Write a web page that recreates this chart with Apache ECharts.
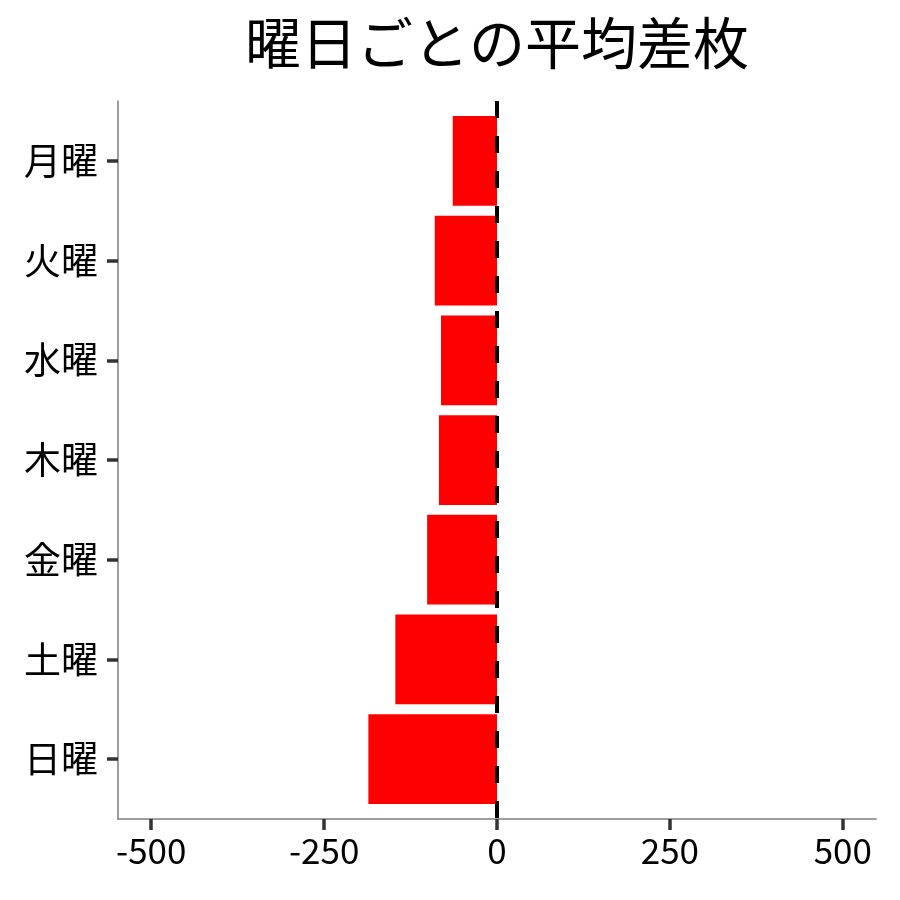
<!DOCTYPE html>
<html>
<head>
<meta charset="utf-8">
<script src="https://cdn.jsdelivr.net/npm/echarts@6/dist/echarts.min.js"></script>
<style>
  html, body { margin: 0; padding: 0; background: #fff; }
  #main { width: 900px; height: 900px; }
</style>
</head>
<body>
<div id="main"></div>
<script>
// 曜日ごとの平均差枚
var days = ['月曜', '火曜', '水曜', '木曜', '金曜', '土曜', '日曜'];
var avgDiff = [-64, -90, -81, -84, -101, -147, -186];
var xTicks = [-500, -250, 0, 250, 500];
var dayPos = days.map(function (d, i) { return i + 1; });

var FONT = '"Noto Sans CJK JP", "Noto Sans", sans-serif';

var chart = echarts.init(document.getElementById('main'));

var barData = avgDiff.map(function (v, i) { return [v, dayPos[i]]; });

chart.setOption({
  animation: false,
  backgroundColor: '#fff',
  title: {
    text: '曜日ごとの平均差枚',
    left: 492,
    textAlign: 'center',
    top: 10,
    textStyle: { fontFamily: FONT, fontSize: 56, fontWeight: 'normal', color: '#000' }
  },
  grid: { left: 118, right: 24, top: 101, bottom: 81 },
  xAxis: {
    type: 'value',
    min: -548,
    max: 548,
    splitLine: { show: false },
    axisLine: { show: true, onZero: false, lineStyle: { color: '#7f7f7f', width: 1.5 } },
    axisTick: { show: true, customValues: xTicks, length: 11, lineStyle: { color: '#333', width: 3.5 } },
    axisLabel: {
      customValues: xTicks,
      margin: 14,
      fontFamily: FONT, fontSize: 35, color: '#000'
    }
  },
  yAxis: {
    type: 'value',
    min: 0.4,
    max: 7.6,
    inverse: true,
    splitLine: { show: false },
    axisLine: { show: true, onZero: false, lineStyle: { color: '#7f7f7f', width: 1.5 } },
    axisTick: { show: true, customValues: dayPos, length: 11, lineStyle: { color: '#333', width: 3.5 } },
    axisLabel: {
      customValues: dayPos,
      margin: 20,
      fontFamily: FONT, fontSize: 37, color: '#000',
      formatter: function (v) { return days[Math.round(v) - 1] || ''; }
    }
  },
  series: [{
    type: 'custom',
    data: barData,
    encode: { x: 0, y: 1 },
    renderItem: function (params, api) {
      var v = api.value(0);
      var y = api.value(1);
      var p0 = api.coord([0, y]);
      var p1 = api.coord([v, y]);
      var h = api.size([0, 0.9])[1];
      return {
        type: 'rect',
        shape: {
          x: Math.min(p0[0], p1[0]),
          y: p0[1] - h / 2,
          width: Math.abs(p1[0] - p0[0]),
          height: h
        },
        style: { fill: '#ff0000' }
      };
    },
    markLine: {
      symbol: 'none',
      silent: true,
      label: { show: false },
      lineStyle: { color: '#000', type: [17, 18], width: 4 },
      data: [{ xAxis: 0 }]
    },
    z: 2
  }]
});

window.addEventListener('resize', function () {
  if (chart) {
    chart.resize();
  }
});
</script>
</body>
</html>
